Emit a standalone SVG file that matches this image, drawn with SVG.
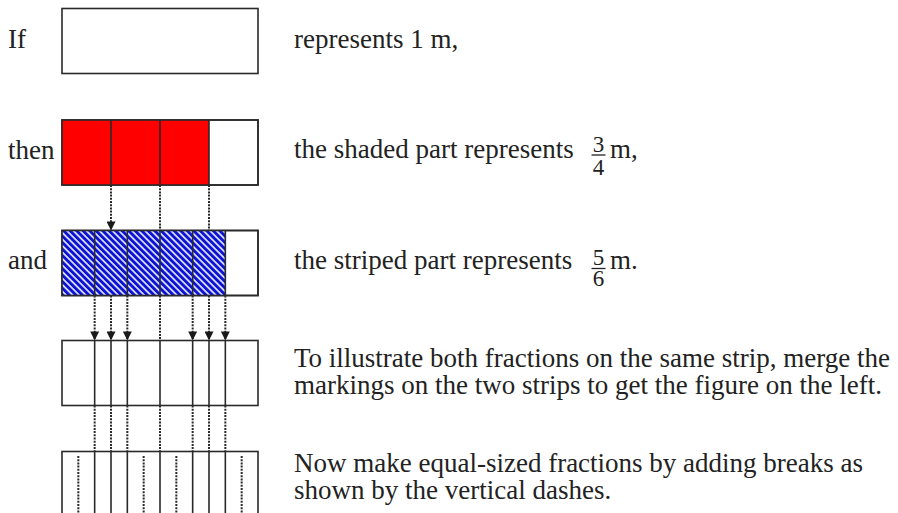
<svg xmlns="http://www.w3.org/2000/svg" width="898" height="513" viewBox="0 0 898 513">
<style>
  text { font-family: "Liberation Serif", "Times New Roman", serif; fill: #222; }
  .t { font-size: 27px; }
  .fr { font-size: 23px; text-anchor: middle; }
  .box { fill: #fff; stroke: #2a2a2a; stroke-width: 1.6; }
  .frame { fill: none; stroke: #2a2a2a; stroke-width: 1.6; }
  .div { stroke: #2a2a2a; stroke-width: 1.6; fill: none; }
  .dot { stroke: #2a2a2a; stroke-width: 2; stroke-dasharray: 2 1.2; fill: none; }
  .dotarr { stroke: #2a2a2a; stroke-width: 2; stroke-dasharray: 2 1.2; fill: none; marker-end: url(#ah); }
  .bar { stroke: #222; stroke-width: 1.3; }
</style>
<defs>
  <marker id="ah" viewBox="0 0 10 10" refX="10" refY="5" markerWidth="10" markerHeight="9" markerUnits="userSpaceOnUse" orient="auto">
    <path d="M0,0 L10,5 L0,10 z" fill="#1a1a1a" stroke="none"/>
  </marker>
  <pattern id="stripes" patternUnits="userSpaceOnUse" width="4.6" height="4.6" patternTransform="rotate(45)">
    <rect width="4.6" height="4.6" fill="#0b12d2"/>
    <rect y="0" width="4.6" height="1.7" fill="#e2e6ff"/>
  </pattern>
</defs>

<g id="labels-left">
  <text class="t" x="8" y="47.5">If</text>
  <text class="t" x="8" y="158.5">then</text>
  <text class="t" x="8" y="268.5">and</text>
</g>

<g id="strip-whole">
  <rect class="box" x="62" y="8.5" width="196" height="65"/>
</g>

<g id="strip-quarters">
  <rect class="box" x="62" y="120" width="196" height="65"/>
  <rect x="62" y="120" width="147" height="65" fill="#ff0000" stroke="none"/>
  <rect class="frame" x="62" y="120" width="196" height="65"/>
  <path class="div" d="M111,120 V185 M160,120 V185 M209,120 V185"/>
</g>

<g id="strip-sixths">
  <rect class="box" x="62" y="230.5" width="196" height="65"/>
  <rect x="62" y="230.5" width="163.3" height="65" fill="url(#stripes)" stroke="none"/>
  <rect class="frame" x="62" y="230.5" width="196" height="65"/>
  <path class="div" d="M94.67,230.5 V295.5 M127.33,230.5 V295.5 M160,230.5 V295.5 M192.67,230.5 V295.5 M225.33,230.5 V295.5"/>
</g>

<g id="strip-merged">
  <rect class="box" x="62" y="340.5" width="196" height="65"/>
  <path class="div" d="M94.67,340.5 V405.5 M111,340.5 V405.5 M127.33,340.5 V405.5 M160,340.5 V405.5 M192.67,340.5 V405.5 M209,340.5 V405.5 M225.33,340.5 V405.5"/>
</g>

<g id="strip-twelfths">
  <rect class="box" x="62" y="451.5" width="196" height="80"/>
  <path class="div" d="M94.67,451.5 V520 M111,451.5 V520 M127.33,451.5 V520 M160,451.5 V520 M192.67,451.5 V520 M209,451.5 V520 M225.33,451.5 V520"/>
  <path class="dot" d="M78.33,456 V520 M143.67,456 V520 M176.33,456 V520 M241.67,456 V520"/>
</g>

<g id="connectors">
  <path class="dotarr" d="M111,185 V230.5"/>
  <path class="dot" d="M160,185 V230.5 M209,185 V230.5"/>
  <path class="dotarr" d="M94.67,295.5 V340.5"/>
  <path class="dotarr" d="M111,295.5 V340.5"/>
  <path class="dotarr" d="M127.33,295.5 V340.5"/>
  <path class="dotarr" d="M192.67,295.5 V340.5"/>
  <path class="dotarr" d="M209,295.5 V340.5"/>
  <path class="dotarr" d="M225.33,295.5 V340.5"/>
  <path class="dot" d="M160,295.5 V340.5"/>
  <path class="dot" d="M94.67,405.5 V451.5 M111,405.5 V451.5 M127.33,405.5 V451.5 M160,405.5 V451.5 M192.67,405.5 V451.5 M209,405.5 V451.5 M225.33,405.5 V451.5"/>
</g>

<g id="text-right">
  <text class="t" x="294" y="48">represents 1 m,</text>
  <text class="t" x="294" y="158">the shaded part represents</text>
  <text class="fr" x="598.5" y="151.5">3</text>
  <line class="bar" x1="591.5" y1="155" x2="605.5" y2="155"/>
  <text class="fr" x="598.5" y="174.5">4</text>
  <text class="t" x="610" y="158">m,</text>
  <text class="t" x="294" y="268.5">the striped part represents</text>
  <text class="fr" x="598.5" y="265">5</text>
  <line class="bar" x1="591.5" y1="268.5" x2="605.5" y2="268.5"/>
  <text class="fr" x="598.5" y="286">6</text>
  <text class="t" x="610" y="268.5">m.</text>
  <text class="t" x="294" y="366.5">To illustrate both fractions on the same strip, merge the</text>
  <text class="t" x="294" y="393.5">markings on the two strips to get the figure on the left.</text>
  <text class="t" x="294" y="471.5">Now make equal-sized fractions by adding breaks as</text>
  <text class="t" x="294" y="498.5">shown by the vertical dashes.</text>
</g>
</svg>
